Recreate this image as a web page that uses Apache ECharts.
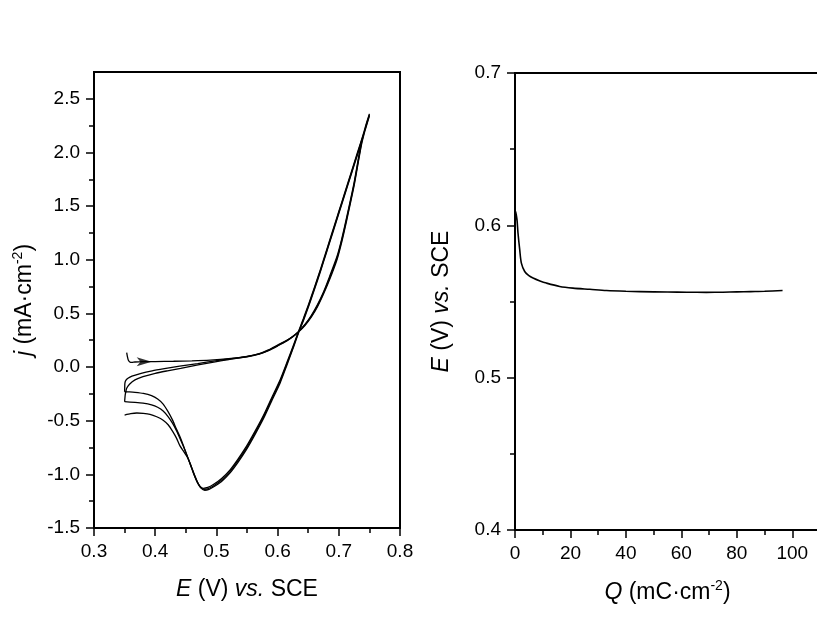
<!DOCTYPE html>
<html>
<head>
<meta charset="utf-8">
<script src="https://cdn.jsdelivr.net/npm/echarts@6/dist/echarts.min.js"></script>
<style>html,body{margin:0;padding:0;background:#fff;}#c{width:817px;height:630px;}</style>
</head>
<body>
<div id="c"></div>
<script>
// ---- Left panel: cyclic voltammogram (E / V vs. SCE, j / mA cm-2) ----
const cycle1 = [
  [0.3534,0.134],[0.3545,0.100],[0.356,0.066],[0.3585,0.048],[0.3616,0.043],[0.367,0.047],[0.380,0.050],
  [0.400,0.051],[0.430,0.054],[0.460,0.058],[0.490,0.065],[0.520,0.078],[0.550,0.100],[0.570,0.125],
  [0.585,0.160],[0.600,0.205],[0.615,0.250],[0.625,0.288],[0.634,0.330],[0.645,0.400],[0.655,0.480],
  [0.665,0.580],[0.675,0.700],[0.685,0.845],[0.697,1.030],[0.705,1.200],[0.713,1.400],[0.725,1.720],
  [0.737,2.100],[0.745,2.270],[0.750,2.360],
  [0.740,2.170],[0.730,1.990],[0.720,1.810],[0.710,1.630],[0.700,1.450],[0.690,1.270],[0.680,1.090],
  [0.670,0.910],[0.660,0.740],[0.650,0.575],[0.642,0.450],[0.634,0.330],[0.625,0.190],[0.615,0.040],
  [0.604,-0.120],[0.590,-0.290],[0.577,-0.450],[0.563,-0.600],[0.549,-0.740],[0.535,-0.860],[0.522,-0.960],
  [0.508,-1.040],[0.495,-1.095],[0.486,-1.122],[0.4786,-1.130],[0.473,-1.110],[0.468,-1.065],[0.4625,-0.990],
  [0.4575,-0.910],[0.4515,-0.820],[0.446,-0.730],[0.4405,-0.650],[0.4345,-0.575],[0.428,-0.490],
  [0.421,-0.415],[0.413,-0.345],[0.404,-0.298],[0.394,-0.267],[0.3806,-0.246],[0.367,-0.236],
  [0.358,-0.232],[0.350,-0.230]
];
const cycle2 = [
  [0.350,-0.230],[0.3502,-0.190],[0.3505,-0.150],[0.352,-0.125],[0.3555,-0.105],[0.362,-0.085],[0.377,-0.058],
  [0.395,-0.035],[0.415,-0.015],[0.440,0.008],[0.4695,0.033],[0.498,0.058],[0.520,0.075],[0.550,0.098],
  [0.570,0.122],[0.585,0.155],[0.600,0.200],[0.615,0.246],[0.625,0.285],[0.634,0.328],[0.645,0.395],
  [0.655,0.472],[0.665,0.570],[0.675,0.690],[0.685,0.830],[0.697,1.015],[0.705,1.185],[0.713,1.385],
  [0.725,1.705],[0.737,2.085],[0.745,2.260],[0.750,2.350],
  [0.740,2.160],[0.730,1.980],[0.720,1.800],[0.710,1.620],[0.700,1.440],[0.690,1.260],[0.680,1.080],
  [0.670,0.900],[0.660,0.730],[0.650,0.565],[0.642,0.440],[0.634,0.322],[0.625,0.180],[0.615,0.028],
  [0.604,-0.135],[0.590,-0.305],[0.577,-0.465],[0.563,-0.615],[0.549,-0.755],[0.535,-0.875],[0.522,-0.975],
  [0.508,-1.055],[0.495,-1.108],[0.487,-1.132],[0.480,-1.140],[0.474,-1.120],[0.469,-1.075],[0.4635,-1.000],
  [0.4585,-0.920],[0.4525,-0.830],[0.4465,-0.745],[0.4405,-0.665],[0.435,-0.595],[0.4285,-0.525],
  [0.421,-0.462],[0.413,-0.410],[0.404,-0.375],[0.394,-0.352],[0.380,-0.336],[0.367,-0.329],[0.350,-0.323]
];
const cycle3 = [
  [0.350,-0.323],[0.3505,-0.290],[0.351,-0.260],[0.352,-0.230],[0.3534,-0.198],[0.358,-0.160],[0.367,-0.120],
  [0.380,-0.090],[0.400,-0.058],[0.420,-0.035],[0.4416,-0.012],[0.470,0.020],[0.498,0.048],[0.520,0.070],
  [0.550,0.096],[0.570,0.120],[0.585,0.152],[0.600,0.196],[0.615,0.243],[0.625,0.282],[0.634,0.326],
  [0.645,0.390],[0.655,0.465],[0.665,0.560],[0.675,0.680],[0.685,0.815],[0.697,1.000],[0.705,1.170],
  [0.713,1.370],[0.725,1.690],[0.737,2.070],[0.745,2.250],[0.750,2.340],
  [0.740,2.150],[0.730,1.970],[0.720,1.790],[0.710,1.610],[0.700,1.430],[0.690,1.250],[0.680,1.070],
  [0.670,0.890],[0.660,0.720],[0.650,0.555],[0.642,0.430],[0.634,0.315],[0.625,0.170],[0.615,0.015],
  [0.604,-0.150],[0.590,-0.320],[0.577,-0.480],[0.563,-0.630],[0.549,-0.770],[0.535,-0.890],[0.522,-0.988],
  [0.508,-1.068],[0.495,-1.118],[0.488,-1.140],[0.481,-1.148],[0.475,-1.128],[0.470,-1.085],[0.4645,-1.010],
  [0.4595,-0.935],[0.4535,-0.850],[0.447,-0.790],[0.4405,-0.735],[0.435,-0.665],[0.4285,-0.600],
  [0.4215,-0.540],[0.413,-0.495],[0.4025,-0.463],[0.3915,-0.440],[0.3806,-0.431],[0.370,-0.428],
  [0.360,-0.434],[0.350,-0.447]
];
const arrowAt = [0.382, 0.050];

const cvETicks = [0.3, 0.4, 0.5, 0.6, 0.7, 0.8];
const cvEMinor = [0.35, 0.45, 0.55, 0.65, 0.75];
const cvJTicks = [-1.5, -1.0, -0.5, 0.0, 0.5, 1.0, 1.5, 2.0, 2.5];
const cvJMinor = [-1.25, -0.75, -0.25, 0.25, 0.75, 1.25, 1.75, 2.25];

// ---- Right panel: potential vs. charge ----
const qValues = [0.1, 0.25, 0.45, 0.72, 1.08, 1.7, 2.3, 3.5, 5.0, 6.5, 9.0, 11.3, 16.1, 20.9, 27, 33, 40, 45, 55, 62, 69, 75, 80, 85, 90, 96.5];
const eValues = [0.603, 0.609, 0.607, 0.6037, 0.595, 0.584, 0.5752, 0.5697, 0.567, 0.5654, 0.5635, 0.5621, 0.5599, 0.5588, 0.558, 0.5572, 0.5567, 0.5565, 0.5562, 0.5561, 0.556, 0.5561, 0.5563, 0.5565, 0.5567, 0.5572];
const qTicks = [0, 20, 40, 60, 80, 100];
const qMinor = [10, 30, 50, 70, 90];
const eTicks = [0.4, 0.5, 0.6, 0.7];
const eMinor = [0.45, 0.55, 0.65];

const FONT = 'Liberation Sans';
const chart = echarts.init(document.getElementById('c'), null, {renderer: 'canvas'});

const nameRich = {
  n: {fontFamily: FONT, fontSize: 23, color: '#000', lineHeight: 27},
  i: {fontFamily: FONT, fontSize: 23, color: '#000', fontStyle: 'italic', lineHeight: 27},
  sup: {fontFamily: FONT, fontSize: 14, color: '#000', verticalAlign: 'top', lineHeight: 14}
};

function majorAxis(grid, pos, min, max, ticks, decimals, extra) {
  return Object.assign({
    type: 'value', gridIndex: grid, position: pos, min: min, max: max,
    axisLine: {show: true, onZero: false, lineStyle: {color: '#000', width: 2}},
    axisTick: {show: true, inside: false, length: 8, customValues: ticks, lineStyle: {color: '#000', width: 1.5}},
    axisLabel: {show: true, customValues: ticks, margin: 14, color: '#000', fontFamily: FONT, fontSize: 19,
      formatter: v => Number(v).toFixed(decimals)},
    splitLine: {show: false}
  }, extra || {});
}
function minorAxis(grid, pos, min, max, ticks) {
  return {
    type: 'value', gridIndex: grid, position: pos, min: min, max: max,
    axisLine: {show: false, onZero: false},
    axisTick: {show: true, inside: false, length: 5, customValues: ticks, lineStyle: {color: '#000', width: 1.5}},
    axisLabel: {show: false},
    splitLine: {show: false}
  };
}

const option = {
  animation: false,
  backgroundColor: '#fff',
  grid: [
    {left: 94, top: 72, width: 306, height: 456, show: true, borderColor: '#000', borderWidth: 2,
     backgroundColor: 'transparent', containLabel: false, outerBoundsMode: 'none'},
    {left: 515, top: 73, width: 305, height: 457, show: true, borderColor: '#000', borderWidth: 2,
     backgroundColor: 'transparent', containLabel: false, outerBoundsMode: 'none'}
  ],
  xAxis: [
    majorAxis(0, 'bottom', 0.3, 0.8, cvETicks, 1, {
      name: '{i|E}{n| (V) }{i|vs.}{n| SCE}', nameLocation: 'middle', nameGap: 48,
      nameTextStyle: {rich: nameRich}
    }),
    minorAxis(0, 'bottom', 0.3, 0.8, cvEMinor),
    majorAxis(1, 'bottom', 0, 110, qTicks, 0, {
      name: '{i|Q}{n| (mC·cm}{sup|-2}{n|)}', nameLocation: 'middle', nameGap: 49,
      nameTextStyle: {rich: nameRich}
    }),
    minorAxis(1, 'bottom', 0, 110, qMinor)
  ],
  yAxis: [
    majorAxis(0, 'left', -1.5, 2.75, cvJTicks, 1, {
      name: '{i|j}{n| (mA·cm}{sup|-2}{n|)}', nameLocation: 'middle', nameGap: 56,
      nameTextStyle: {rich: nameRich}
    }),
    minorAxis(0, 'left', -1.5, 2.75, cvJMinor),
    majorAxis(1, 'left', 0.4, 0.7, eTicks, 1, {
      name: '{i|E}{n| (V) }{i|vs.}{n| SCE}', nameLocation: 'middle', nameGap: 60,
      nameTextStyle: {rich: nameRich}
    }),
    minorAxis(1, 'left', 0.4, 0.7, eMinor)
  ],
  series: [
    {type: 'line', xAxisIndex: 0, yAxisIndex: 0, data: cycle1, showSymbol: false, smooth: 0.2,
     lineStyle: {color: '#000', width: 1.3}},
    {type: 'line', xAxisIndex: 0, yAxisIndex: 0, data: cycle2, showSymbol: false, smooth: 0.2,
     lineStyle: {color: '#000', width: 1.3}},
    {type: 'line', xAxisIndex: 0, yAxisIndex: 0, data: cycle3, showSymbol: false, smooth: 0.2,
     lineStyle: {color: '#000', width: 1.3}},
    {type: 'scatter', xAxisIndex: 0, yAxisIndex: 0, data: [arrowAt],
     symbol: 'path://M0,0 L12,4 L0,8 L3,4 Z', symbolSize: [15, 9], symbolKeepAspect: false,
     itemStyle: {color: '#000'}, z: 5},
    {type: 'line', xAxisIndex: 2, yAxisIndex: 2, data: qValues.map((q, k) => [q, eValues[k]]),
     showSymbol: false, smooth: 0.3, lineStyle: {color: '#000', width: 1.6}}
  ]
};
chart.setOption(option);
</script>
</body>
</html>
